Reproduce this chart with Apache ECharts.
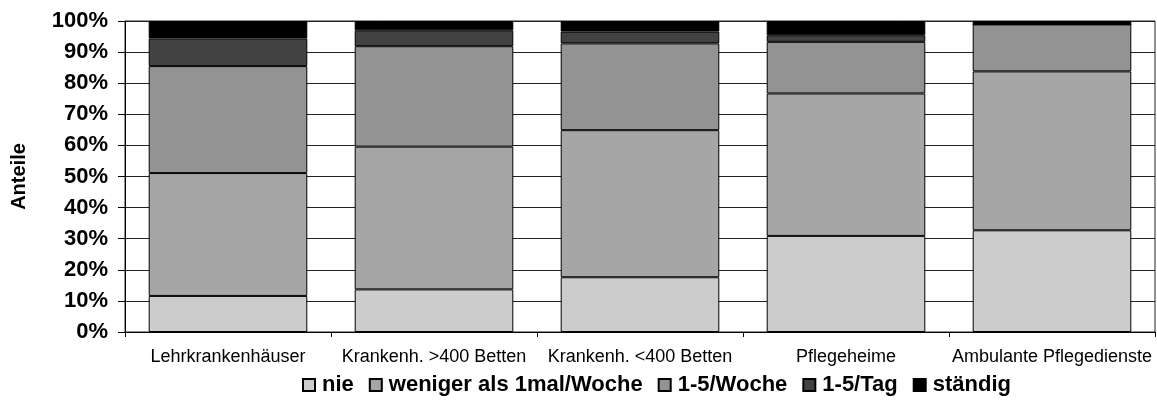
<!DOCTYPE html>
<html>
<head>
<meta charset="utf-8">
<script src="https://cdn.jsdelivr.net/npm/echarts@6/dist/echarts.min.js"></script>
<style>
  html, body { margin: 0; padding: 0; background: #fff; }
  #chart { width: 1157px; height: 403px; }
</style>
</head>
<body>
<div id="chart"></div>
<script>
// Einrichtungstypen
const categories = ['Lehrkrankenhäuser', 'Krankenh. >400 Betten', 'Krankenh. <400 Betten', 'Pflegeheime', 'Ambulante Pflegedienste'];

// Anteile in Prozent je Häufigkeitsklasse
const nie = [11.6, 13.7, 17.6, 30.9, 32.7];
const wenigerAls1malWoche = [39.5, 45.9, 47.3, 45.8, 51.1];
const woche1bis5 = [34.4, 32.3, 27.9, 16.6, 15.1];
const tag1bis5 = [8.9, 5.1, 3.8, 2.1, 0.0];
const staendig = [5.6, 3.0, 3.4, 4.6, 1.1];

const seriesNames = ['nie', 'weniger als 1mal/Woche', '1-5/Woche', '1-5/Tag', 'ständig'];
const seriesColors = ['#cccccc', '#a6a6a6', '#939393', '#424242', '#000000'];
const seriesData = [nie, wenigerAls1malWoche, woche1bis5, tag1bis5, staendig];

const yTicks = { min: 0, max: 100, interval: 10 };

const FONT = '"Liberation Sans", Arial, sans-serif';

const chart = echarts.init(document.getElementById('chart'), null, { renderer: 'canvas' });

chart.setOption({
  animation: false,
  backgroundColor: '#ffffff',
  textStyle: { fontFamily: FONT, color: '#000' },
  grid: {
    left: 125, right: 2, top: 21, bottom: 71,
    show: true, borderColor: '#222', borderWidth: 1, backgroundColor: 'transparent'
  },
  legend: {
    bottom: 2,
    left: 297,
    icon: 'rect',
    itemWidth: 12,
    itemHeight: 12,
    itemGap: 15,
    textStyle: { fontFamily: FONT, fontSize: 22, fontWeight: 'bold', color: '#000', padding: [0, 0, 0, 2] },
    data: seriesNames
  },
  xAxis: {
    type: 'category',
    data: categories,
    axisLine: { show: true, lineStyle: { color: '#000', width: 1 } },
    axisTick: { show: true, alignWithLabel: false, length: 5, lineStyle: { color: '#000' } },
    axisLabel: { fontFamily: FONT, fontSize: 18, color: '#000', margin: 16, interval: 0 },
    splitLine: { show: false }
  },
  yAxis: {
    type: 'value',
    min: yTicks.min,
    max: yTicks.max,
    interval: yTicks.interval,
    name: 'Anteile',
    nameLocation: 'middle',
    nameGap: 96,
    nameRotate: 90,
    nameTextStyle: { fontFamily: FONT, fontSize: 20, fontWeight: 'bold', color: '#000' },
    axisLine: { show: true, lineStyle: { color: '#000', width: 1 } },
    axisTick: { show: true, inside: false, length: 7, lineStyle: { color: '#000' } },
    axisLabel: { fontFamily: FONT, fontSize: 22, fontWeight: 'bold', color: '#000', margin: 17, formatter: '{value}%' },
    splitLine: { show: true, lineStyle: { color: '#222', width: 1 } }
  },
  series: seriesNames.map((name, i) => ({
    name: name,
    type: 'bar',
    stack: 'anteile',
    barCategoryGap: '23%',
    data: seriesData[i],
    itemStyle: { color: seriesColors[i], borderColor: '#000', borderWidth: 1 },
    emphasis: { disabled: true }
  }))
});
</script>
</body>
</html>
